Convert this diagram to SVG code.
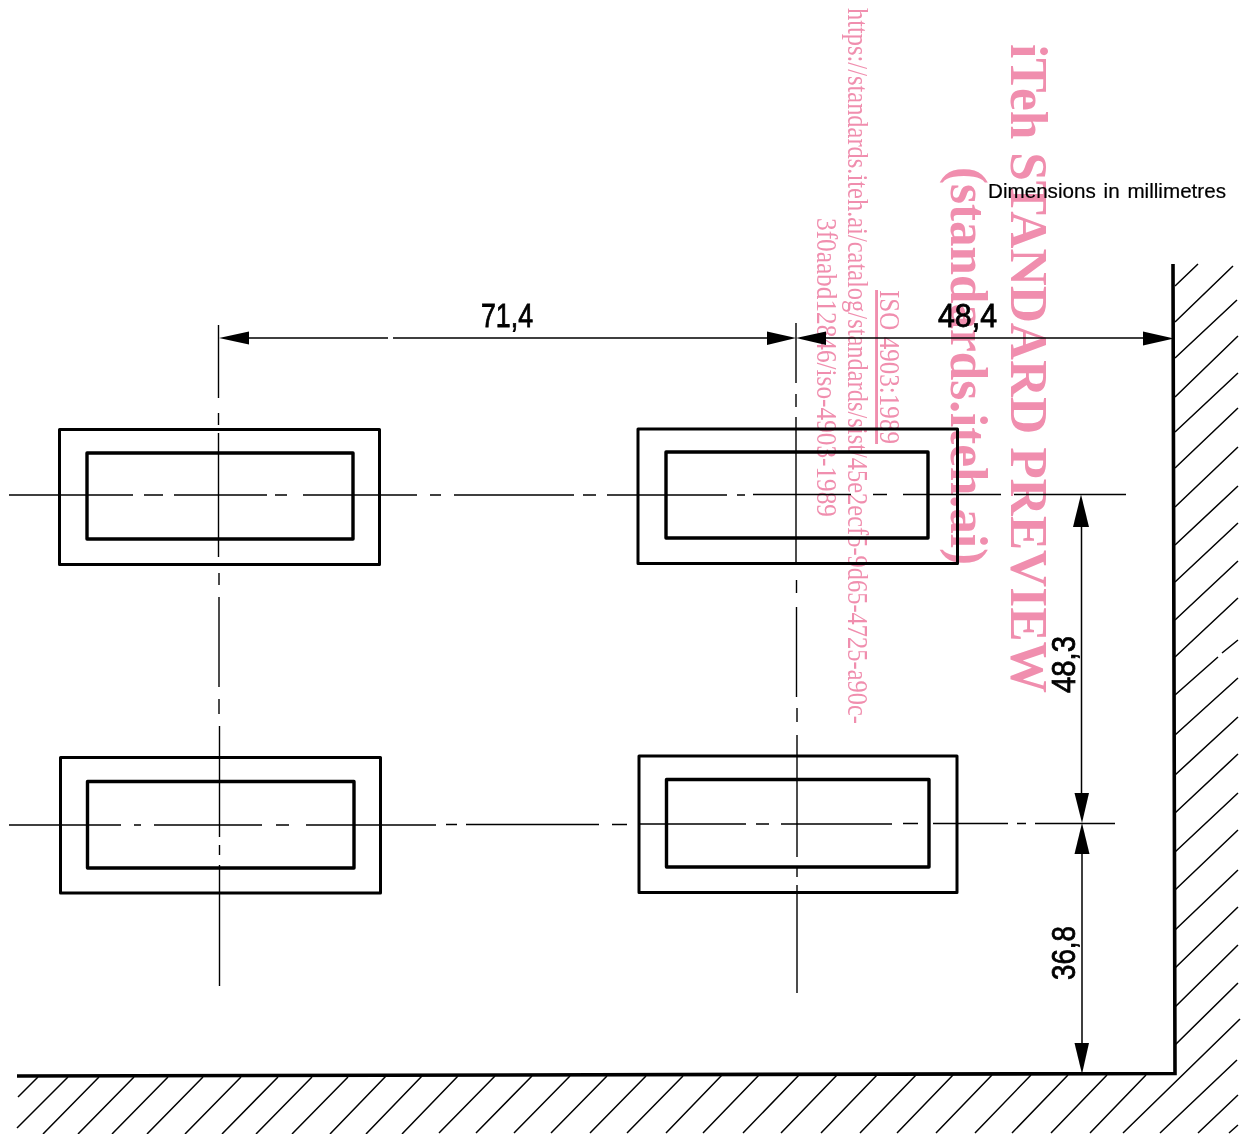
<svg xmlns="http://www.w3.org/2000/svg" width="1245" height="1134" viewBox="0 0 1245 1134">
<style>
.bg{fill:#fff}
.outer,.inner{fill:none;stroke:#000;stroke-linejoin:round}
.outer{stroke-width:3}
.inner{stroke-width:3.4}
.cl,.dim,.hatch{fill:none;stroke:#000}
.cl{stroke-width:1.4}
.dim{stroke-width:1.5}
.hatch{stroke-width:1.5}
.wall{fill:none;stroke:#000;stroke-width:3.6;stroke-linejoin:miter}
.arrow{fill:#000;stroke:none}
.num{font-family:"Liberation Sans",Arial,sans-serif;font-size:33px;fill:#000;stroke:#000;stroke-width:.8}
.note{font-family:"Liberation Sans",Arial,sans-serif;font-size:20px;fill:#000;stroke:#000;stroke-width:.2;word-spacing:2px}
.wm{font-family:"Liberation Serif","Times New Roman",serif;fill:#f08eae;mix-blend-mode:multiply}
.wmb{font-weight:700}
</style>
<rect class="bg" width="1245" height="1134"/>
<g id="wall">
<path class="wall" d="M17 1076 L1175 1073.500 L1173 264"/>
</g>
<g id="hatching">
<path class="hatch" d="M1175 286L1198 264M1175 322L1233 266M1175 358L1237 300M1175 397L1238 336M1175 432L1238 373M1175 468L1238 408M1175 507L1238 447M1175 545L1238 486M1175 582L1238 523M1175 620L1238 561M1175 657L1238 598M1175 695L1218 657M1222 653L1238 640M1175 735L1238 678M1175 775L1238 717M1175 813L1238 754M1175 852L1238 793M1175 890L1238 830M1175 930L1238 870M1175 968L1238 907M1175 1007L1238 945M1175 1045L1238 983"/>
<path class="hatch" d="M38 1077L18 1097M68 1077L17 1128M99 1077L43 1134M134 1077L78 1134M168 1077L112 1134M203 1077L147 1134M241 1077L185 1134M278 1077L222 1134M312 1077L256 1134M348 1077L292 1134M386 1076L330 1134M422 1076L366 1134M458 1076L402 1134M495 1076L439 1133M532 1076L476 1133M570 1076L514 1133M607 1076L551 1133M646 1076L590 1133M683 1076L627 1133M722 1075L666 1133M759 1075L703 1133M799 1075L743 1133M837 1075L781 1133M877 1075L821 1133M916 1075L860 1133M953 1075L897 1133M992 1075L936 1133M1031 1075L975 1133M1068 1075L1012 1133M1107 1075L1051 1133M1146 1075L1090 1133M1123 1133L1240 1019M1160 1133L1237 1060M1198 1133L1238 1095M1229 1133L1238 1125"/>
</g>
<g id="rect-top-left">
<rect class="outer" x="59.500" y="429.500" width="320" height="135"/>
<rect class="inner" x="87" y="453" width="266" height="86"/>
</g>
<g id="rect-top-right">
<rect class="outer" x="638" y="429" width="319.500" height="134.500"/>
<rect class="inner" x="666" y="452" width="262" height="86"/>
</g>
<g id="rect-bottom-left">
<rect class="outer" x="60.500" y="757.500" width="320" height="135.500"/>
<rect class="inner" x="87.500" y="781.500" width="266.500" height="86.500"/>
</g>
<g id="rect-bottom-right">
<rect class="outer" x="639" y="756" width="318" height="136.500"/>
<rect class="inner" x="666.500" y="779.500" width="262.500" height="87.500"/>
</g>
<g id="connectors">
<path class="cl" d="M9 495H133M144 495H163M174 495H267M275 495H287M303 495H417M430 495H441M454 495H574M583 495H596M607 495H727M737 495H745M753 494.500H851M873 494.500H887M903 494.500H1001M1014 494.500H1126"/>
<path class="cl" d="M9 825H121M134 825H141M154 825H262M276 825H289M306 825H436M446 824.500H457M466 824.500H599M612 824.500H627M640 824H746M756 824H769M781 824H892M903 823.500H918M933 823.500H1008M1017 823.500H1026M1035 823.500H1115"/>
<path class="cl" d="M218.500 325V398M218.500 413V425M218.500 433V557M219 573V585M219 597V687M219 699V714M219.500 726V837M219.500 845V855M219.500 865V986"/>
<path class="cl" d="M796 323V383M796 394V407M796 417V563M796.500 580V593M796.500 607V697M797 708V722M797 735V857M797 868V877M797 885V993"/>
<path class="dim" d="M249 338H388M393 338H767M826 338H1143M1081.500 527V793M1082 854V1043"/>
<path class="arrow" d="M219 338L249 331.500L249 344.500Z"/>
<path class="arrow" d="M796 338L767 331.500L767 345Z"/>
<path class="arrow" d="M796 338L826 331.500L826 345Z"/>
<path class="arrow" d="M1174 338.500L1143 331.500L1143 345.500Z"/>
<path class="arrow" d="M1081 494.500L1073 527L1089 527Z"/>
<path class="arrow" d="M1082 823L1074.500 793L1089 793Z"/>
<path class="arrow" d="M1082 823L1074.500 854L1089.500 854Z"/>
<path class="arrow" d="M1082 1074L1074.500 1043L1089 1043Z"/>
</g>
<g id="labels">
<text class="num" x="481" y="327" textLength="52" lengthAdjust="spacingAndGlyphs">71,4</text>
<text class="num" x="938" y="327" textLength="59" lengthAdjust="spacingAndGlyphs">48,4</text>
<text class="num" transform="translate(1075 693) rotate(-90)" textLength="57" lengthAdjust="spacingAndGlyphs">48,3</text>
<text class="num" transform="translate(1075 980) rotate(-90)" textLength="54" lengthAdjust="spacingAndGlyphs">36,8</text>
<text class="note" x="988" y="198" textLength="238" lengthAdjust="spacingAndGlyphs">Dimensions in millimetres</text>
</g>
<g id="watermark">
<text class="wm wmb" font-size="53" transform="translate(1010.500 44) rotate(90)" textLength="649" lengthAdjust="spacingAndGlyphs">iTeh STANDARD PREVIEW</text>
<text class="wm wmb" font-size="52" transform="translate(951 167) rotate(90)" textLength="398" lengthAdjust="spacingAndGlyphs">(standards.iteh.ai)</text>
<text class="wm" font-size="29" transform="translate(848 8) rotate(90)" textLength="716" lengthAdjust="spacingAndGlyphs">https://standards.iteh.ai/catalog/standards/sist/45e2ecf5-9d65-4725-a90c-</text>
<text class="wm" font-size="29" transform="translate(817 218) rotate(90)" textLength="299" lengthAdjust="spacingAndGlyphs">3f0aabd12846/iso-4903-1989</text>
<text class="wm" font-size="29" text-decoration="underline" transform="translate(880 290) rotate(90)" textLength="154" lengthAdjust="spacingAndGlyphs">ISO 4903:1989</text>
</g>
</svg>
